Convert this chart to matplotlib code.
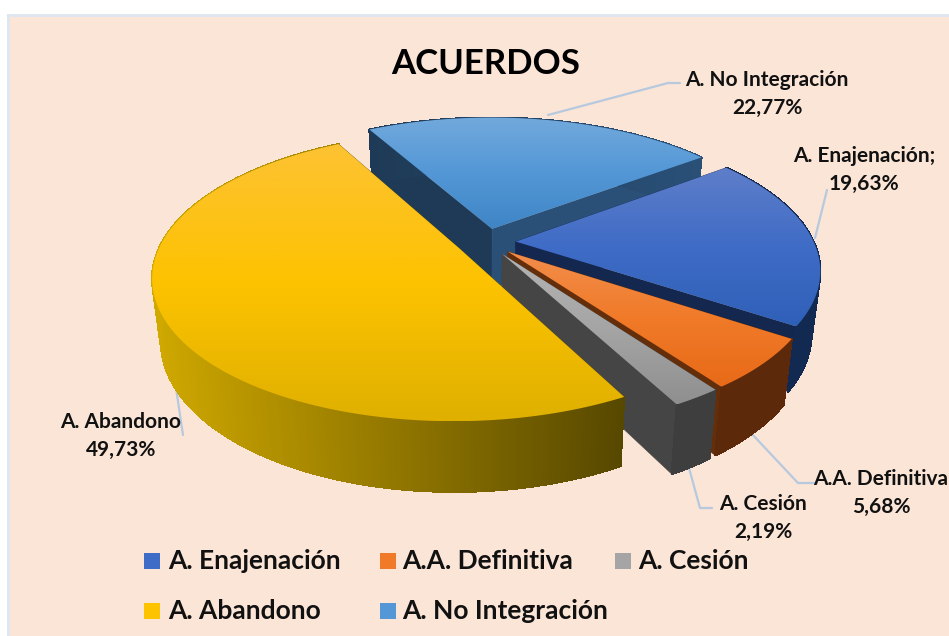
import numpy as np
import matplotlib
matplotlib.use("Agg")
import matplotlib.pyplot as plt
from matplotlib.colors import LinearSegmentedColormap as LSC, to_rgb
from matplotlib.patches import Polygon, Rectangle
from matplotlib.collections import PolyCollection

categories = ["A. Enajenación", "A.A. Definitiva", "A. Cesión", "A. Abandono", "A. No Integración"]
values = [19.63, 5.68, 2.19, 49.73, 22.77]
value_labels = ["19,63%", "5,68%", "2,19%", "49,73%", "22,77%"]

FONT = "Lato"
plt.rcParams["font.family"] = [FONT, "DejaVu Sans"]

# pie geometry (pixels)
CX, CY, RX, RY, K, DEPTH, TAPER, EXPL, START = 486, 242, 298, 137, 0.19, 62, 0.027, 0.10, 53

top_grad = [["#5f7ec9", "#3f6cc6", "#2f60b8"],
            ["#f28e4c", "#f07a28", "#e86a18"],
            ["#b4b4b4", "#a5a5a5", "#8f8f8f"],
            ["#fdc233", "#fdc300", "#dfb000"],
            ["#72a9dc", "#5397d6", "#3f85c5"]]
radial_first = ["#14284f", "#652e0a", "#454545", "#5a4a00", "#1e3a56"]
radial_last = ["#14284f", "#652e0a", "#454545", "#5a4a00", "#2a5078"]
wall_col = [["#14284f", "#122a52"], ["#5c2a0a", "#5c2a0a"], ["#3e3e3e", "#3e3e3e"],
            ["#cfa800", "#574800"], ["#1e3a56", "#2a5078"]]
draw_order = [4, 0, 1, 2, 3]

fig = plt.figure(figsize=(9.49, 6.36), dpi=100, facecolor="white")
ax = fig.add_axes([0, 0, 1, 1])
ax.set_xlim(0, 949)
ax.set_ylim(636, 0)
ax.set_axis_off()
ax.add_patch(Rectangle((7, 14), 950, 630, fc="#dfe6f0", ec="none", zorder=0))
ax.add_patch(Rectangle((10, 17), 950, 630, fc="#fbe5d7", ec="none", zorder=0))


def project(u, v, z=0.0):
    u, v = np.asarray(u, float), np.asarray(v, float)
    w = (1 + K * v) * (1 + TAPER * z)
    return CX + RX * u / w, CY + (-RY * v + DEPTH * z) / w


# leader lines
leaders = [[(548, 115), (668, 83), (680, 83)],
           [(815, 238), (827, 190)],
           [(752, 434), (798, 483), (815, 483)],
           [(689, 468), (700, 508), (712, 508)],
           [(176, 388), (183, 435)]]
for pts in leaders:
    xs, ys = zip(*pts)
    ax.plot(xs, ys, color="#b7c9de", lw=1.6, zorder=1, solid_capstyle="round")

spans = np.array(values) / sum(values) * 360
starts = START + np.concatenate([[0], np.cumsum(spans)[:-1]])

z = 2
for i in draw_order:
    a0, a1 = starts[i], starts[i] + spans[i]
    mid = np.radians((a0 + a1) / 2)
    ou, ov = EXPL * np.sin(mid), EXPL * np.cos(mid)
    th = np.radians(np.linspace(a0, a1, max(int(spans[i] * 2), 8)))
    uu, vv = ou + np.sin(th), ov + np.cos(th)

    # radial walls
    for (ue, ve), col in (((uu[0], vv[0]), radial_first[i]), ((uu[-1], vv[-1]), radial_last[i])):
        xt, yt = project([ou, ue], [ov, ve])
        xb, yb = project([ue, ou], [ve, ov], 1)
        ax.add_patch(Polygon(np.c_[np.r_[xt, xb], np.r_[yt, yb]], fc=col, ec=col, lw=0.3, zorder=z))
    z += 1

    # outer wall strips, shaded by screen x
    xt, yt = project(uu, vv)
    xb, yb = project(uu, vv, 1)
    quads = [[(xt[j], yt[j]), (xt[j + 1], yt[j + 1]), (xb[j + 1], yb[j + 1]), (xb[j], yb[j])]
             for j in range(len(th) - 1)]
    c0, c1 = map(np.array, map(to_rgb, wall_col[i]))
    lo, hi = xt.min(), xt.max()
    cols = [c0 + (c1 - c0) * ((xt[j] - lo) / max(hi - lo, 1)) for j in range(len(th) - 1)]
    ax.add_collection(PolyCollection(quads, facecolors=cols, edgecolors=cols, linewidths=0.8,
                                     antialiaseds=False, zorder=z))
    z += 1

    # top face with vertical gradient
    px, py = project(np.r_[ou, uu], np.r_[ov, vv])
    poly = Polygon(np.c_[px, py], fc="none", ec="none", transform=ax.transData)
    ax.add_patch(poly)
    cmap = LSC.from_list("g", top_grad[i])
    im = ax.imshow(np.linspace(0, 1, 256)[:, None], cmap=cmap, aspect="auto",
                   extent=(px.min(), px.max(), py.max(), py.min()), zorder=z, interpolation="bilinear")
    im.set_clip_path(poly)
    z += 1
ax.set_xlim(0, 949)
ax.set_ylim(636, 0)

ax.text(486, 64, "ACUERDOS", ha="center", va="center", fontsize=25, fontweight="bold", color="#000000", zorder=50)

label_pos = [(864, 170), (881, 493), (763, 518), (121, 436), (767, 94)]
label_names = ["A. Enajenación;", "A.A. Definitiva", "A. Cesión", "A. Abandono", "A. No Integración"]
for (x, y), n, v in zip(label_pos, label_names, value_labels):
    ax.text(x, y, n + "\n" + v, ha="center", va="center", fontsize=15, fontweight="bold",
            linespacing=1.5, color="#111111", zorder=50)

# legend entries: order follows the categories, laid out as in the reference
legend_slots = [(144, 561), (380, 561), (615, 561), (144, 611), (380, 611)]
for i, (x, y) in enumerate(legend_slots):
    ax.add_patch(Rectangle((x, y - 8), 16, 16, fc=top_grad[i][1], ec="none", zorder=50))
    ax.text(x + (24 if x == 144 else 22 if x == 380 else 23), y, categories[i], ha="left", va="center",
            fontsize=19, fontweight="bold", color="#111111", zorder=50)

fig.savefig("out.png", dpi=100)
